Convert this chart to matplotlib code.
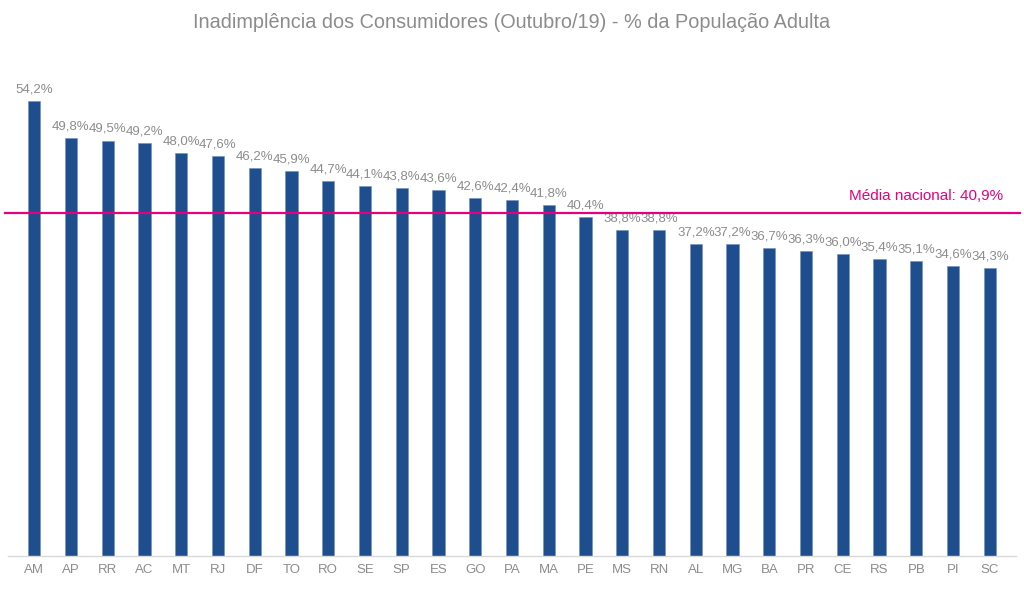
import matplotlib
matplotlib.use("Agg")
import matplotlib.pyplot as plt

states = ["AM", "AP", "RR", "AC", "MT", "RJ", "DF", "TO", "RO", "SE", "SP", "ES", "GO", "PA",
          "MA", "PE", "MS", "RN", "AL", "MG", "BA", "PR", "CE", "RS", "PB", "PI", "SC"]
values = [54.2, 49.8, 49.5, 49.2, 48.0, 47.6, 46.2, 45.9, 44.7, 44.1, 43.8, 43.6, 42.6, 42.4,
          41.8, 40.4, 38.8, 38.8, 37.2, 37.2, 36.7, 36.3, 36.0, 35.4, 35.1, 34.6, 34.3]
media = 40.9
title = "Inadimplência dos Consumidores (Outubro/19) - % da População Adulta"

plt.rcParams['font.family'] = ['Liberation Sans', 'DejaVu Sans']

fig = plt.figure(figsize=(10.24, 5.89), dpi=100)
ax = fig.add_axes([0.008, 0.056, 0.984, 0.855])

x = list(range(len(states)))
bars = ax.bar(x, values, width=0.33, color='#1f4e8f', edgecolor='#6f8fbf', linewidth=0.4, zorder=2)
for xi, v in zip(x, values):
    ax.annotate(f"{v:.1f}".replace('.', ',') + "%", (xi, v), xytext=(0, 4),
                textcoords='offset points', ha='center', va='bottom',
                fontsize=9.5, color='#8c8c8c')

ax.axhline(media, color='#e6007e', linewidth=1.6, zorder=3, xmin=-0.003, xmax=1.004, clip_on=False)
ax.text(26.35, media + 1.2, "Média nacional: " + f"{media:.1f}".replace('.', ',') + "%",
        ha='right', va='bottom', fontsize=11, color='#e6007e')

ax.set_xlim(-0.707, 26.707)
ax.set_ylim(0, 60)
ax.set_xticks(x)
ax.set_xticklabels(states, fontsize=9.5, color='#8c8c8c')
ax.tick_params(axis='x', length=0, pad=6)
ax.set_yticks([])
for s in ['top', 'right', 'left']:
    ax.spines[s].set_visible(False)
ax.spines['bottom'].set_color('#d9d9d9')
ax.spines['bottom'].set_linewidth(1)

fig.text(0.5, 1 - 22 / 589, title, ha='center', va='center', fontsize=14.3, color='#8c8c8c')

fig.savefig("out.png", dpi=100)
